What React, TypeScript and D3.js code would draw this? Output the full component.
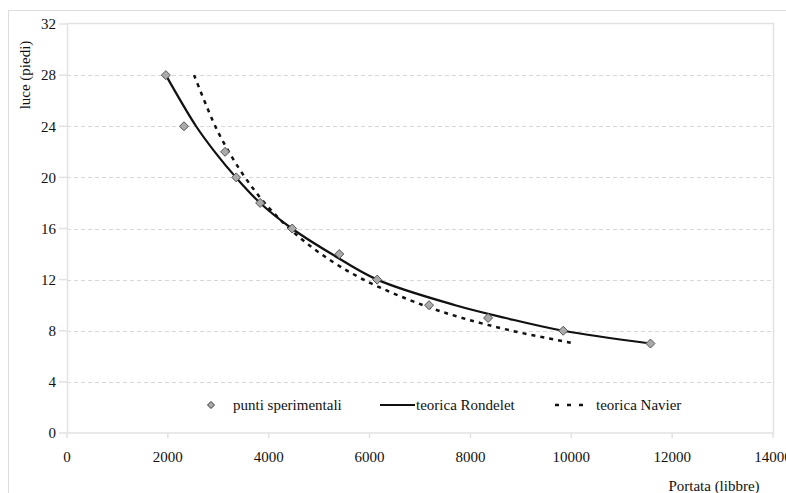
import React from 'react';
import * as d3 from 'd3';

// luce (piedi) vs portata (libbre)
const spans = [28, 24, 22, 20, 18, 16, 14, 12, 10, 9, 8, 7];
const measured = [1960, 2320, 3135, 3355, 3830, 4465, 5400, 6150, 7180, 8350, 9840, 11570];
const measuredSpans = [28, 24, 22, 20, 18, 16, 14, 12, 10, 9, 8, 7];
const rondelet = [1960, 2560, 2930, 3350, 3830, 4460, 5250, 6150, 7700, 8700, 9840, 11570];
const navier = [2520, 2940, 3210, 3530, 3920, 4410, 5040, 5880, 7060, 7840, 8820, 10080];

const xTicks = [0, 2000, 4000, 6000, 8000, 10000, 12000, 14000];
const yTicks = [0, 4, 8, 12, 16, 20, 24, 28, 32];

const FONT = '"Liberation Serif", "Times New Roman", serif';

const diamond = (cx: number, cy: number, r: number) =>
  `M${cx},${cy - r}L${cx + r},${cy}L${cx},${cy + r}L${cx - r},${cy}Z`;

export default function App() {
  const left = 67, right = 773, top = 24, bottom = 433;
  const x = d3.scaleLinear().domain([0, 14000]).range([left, right]);
  const y = d3.scaleLinear().domain([0, 32]).range([bottom, top]);

  const line = d3.line<[number, number]>()
    .x(d => x(d[0]))
    .y(d => y(d[1]))
    .curve(d3.curveCatmullRom.alpha(0.5));

  const rondeletPath = line(rondelet.map((p, i) => [p, spans[i]]));
  const navierPath = line(navier.map((p, i) => [p, spans[i]]));

  const legendY = 405;

  return (
    <svg width={786} height={493} style={{ position: 'absolute', left: 0, top: 0 }}
      fontFamily={FONT}>
      <rect x={0} y={0} width={786} height={493} fill="#fff" />
      <rect x={8.5} y={10.5} width={800} height={500} fill="none" stroke="#dcdcdc" />

      {/* grid */}
      {yTicks.filter(t => t > 0 && t < 32).map(t => (
        <line key={t} x1={left} x2={right} y1={Math.round(y(t)) + 0.5} y2={Math.round(y(t)) + 0.5}
          stroke="#d8d8d8" strokeDasharray="4,3" />
      ))}

      {/* plot frame */}
      <rect x={left + 0.5} y={top - 0.5} width={right - left} height={bottom - top + 0.5}
        fill="none" stroke="#e2e2e2" strokeWidth={1.5} />

      {/* y axis */}
      {yTicks.map(t => (
        <g key={t}>
          <line x1={left - 8} x2={left} y1={y(t)} y2={y(t)} stroke="#e2e2e2" strokeWidth={1.5} />
          <text x={56} y={y(t)} dy="0.35em" textAnchor="end" fontSize={15} fill="#111">{t}</text>
        </g>
      ))}
      <text transform={`translate(30,75) rotate(-90)`} textAnchor="middle" fontSize={15} fill="#111">
        luce (piedi)
      </text>

      {/* x axis */}
      {xTicks.map(t => (
        <g key={t}>
          <line x1={x(t)} x2={x(t)} y1={bottom} y2={bottom + 5} stroke="#e2e2e2" strokeWidth={1.5} />
          <text x={x(t)} y={462} textAnchor="middle" fontSize={15} fill="#111">{t}</text>
        </g>
      ))}
      <text x={714} y={491} textAnchor="middle" fontSize={15} fill="#111">Portata (libbre)</text>

      {/* curves */}
      <path d={navierPath ?? ''} fill="none" stroke="#111" strokeWidth={2.5} strokeDasharray="4,5" />
      <path d={rondeletPath ?? ''} fill="none" stroke="#111" strokeWidth={2.2} />

      {/* points */}
      {measured.map((p, i) => (
        <path key={i} d={diamond(x(p), y(measuredSpans[i]), 4.5)} fill="#aaa" stroke="#555" strokeWidth={1} />
      ))}

      {/* legend */}
      <path d={diamond(211, legendY, 3.5)} fill="#aaa" stroke="#333" strokeWidth={1} />
      <text x={233} y={legendY} dy="0.35em" fontSize={15} fill="#111">punti sperimentali</text>
      <line x1={380} x2={415} y1={legendY} y2={legendY} stroke="#111" strokeWidth={2.2} />
      <text x={416} y={legendY} dy="0.35em" fontSize={15} fill="#111">teorica Rondelet</text>
      <line x1={555} x2={590} y1={legendY} y2={legendY} stroke="#111" strokeWidth={2.5} strokeDasharray="4,8" />
      <text x={596} y={legendY} dy="0.35em" fontSize={15} fill="#111">teorica Navier</text>
    </svg>
  );
}
